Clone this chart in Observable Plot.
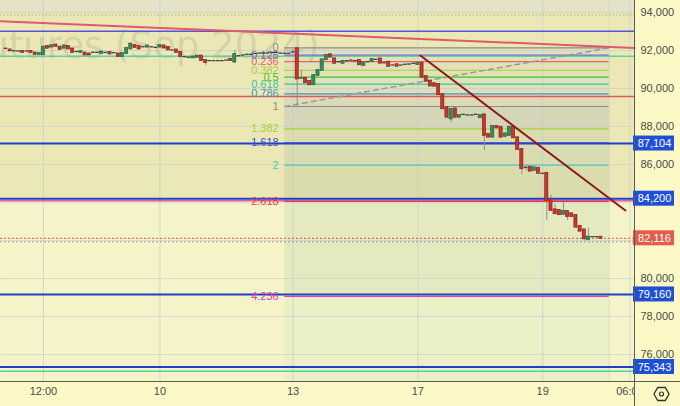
<!DOCTYPE html>
<html><head><meta charset="utf-8">
<script src="https://cdn.jsdelivr.net/npm/d3@7"></script>
<script src="https://cdn.jsdelivr.net/npm/@observablehq/plot@0.6"></script>
<style>
html,body{margin:0;padding:0;background:#fdf9c6;}
#chart svg{display:block}
</style></head><body><div id="chart"></div>
<script>
// ---- candle data (bar index = position in arrays) ----
const opens = [92090,92030,91960,91950,91950,91950,91950,91870,91790,91775,
 92210,92180,92290,92180,92120,92210,92080,91920,91895,91870,
 91820,91880,91880,91845,91880,91895,91860,91820,91685,91840,
 92080,92260,92210,92170,92180,92170,92140,92180,92240,92160,
 92000,92030,91895,91650,91620,91610,91630,91710,91470,91440,
 91440,91440,91440,91470,91530,91390,91700,91737,91775,91775,
 91815,91840,91840,91840,91870,91870,91840,91830,91830,91895,
 92090,90526,90540,90370,90195,90685,90950,91510,91775,91560,
 91385,91330,91440,91470,91440,91470,91210,91385,91420,91510,
 91560,91330,91385,91210,91250,91210,91250,91263,91300,91263,
 91330,90630,90385,90250,90210,89670,88985,88400,88930,88490,
 88615,88580,88580,88615,88460,88615,87580,87440,88000,87965,
 87475,87525,87965,87405,86790,85825,85860,85685,85805,85510,
 85540,84140,83615,83580,83370,83525,83405,83315,82740,82560,
 82040,82175,82175,82175];
const highs = [92120,92060,91990,91980,91980,91970,91975,91900,91870,92240,
 92260,92280,92320,92210,92270,92240,92100,91950,91975,91890,
 91850,91920,91900,91950,91900,91920,91880,91840,91860,92130,
 92390,92290,92230,92190,92260,92190,92160,92290,92260,92180,
 92020,92050,91910,91670,91640,91680,91730,91730,91490,91460,
 91460,91460,91460,91490,91550,92000,91730,91760,91800,91800,
 91840,91860,91860,91860,91890,91890,91860,91850,91850,92050,
 92142,90950,90560,90390,90700,90970,91530,91760,91820,91580,
 91410,91440,91460,91490,91460,91500,91370,91420,91550,91530,
 91580,91350,91400,91230,91270,91230,91270,91280,91320,91350,
 91360,90660,90400,90270,90230,89690,89010,88920,88960,88600,
 88640,88600,88600,88640,88600,88640,87600,88030,88030,87990,
 87640,87990,87990,87430,86810,85950,85880,85840,85830,85530,
 85560,84370,83900,83600,84015,83550,83430,83340,82760,82580,
 82650,82200,82200,82190];
const lows = [92060,91960,91940,91930,91880,91920,91880,91770,91770,91740,
 92100,92160,92190,92000,92100,92060,91870,91900,91880,91740,
 91750,91860,91860,91830,91860,91800,91840,91630,91660,91820,
 92060,92140,92060,92150,92160,92150,92120,92160,92110,92010,
 91980,91870,91660,91630,91600,91590,91610,91450,91210,91420,
 91420,91420,91420,91450,91450,91320,91680,91720,91750,91750,
 91790,91820,91820,91820,91850,91850,91820,91810,91810,91820,
 89053,90500,90280,90150,90160,90660,90930,91490,91630,91310,
 91360,91310,91420,91450,91420,91220,91190,91360,91400,91490,
 91310,91310,91150,91190,91150,91190,91230,91240,91280,91240,
 90570,90360,90110,90100,89640,88900,88450,88210,88460,88470,
 88590,88560,88560,88590,88440,86737,87410,87420,87900,87420,
 87450,87500,87380,86760,85474,85680,85630,85660,85520,85490,
 83053,83560,83370,83330,83350,83053,83240,82680,82470,81975,
 82020,82150,82150,82100];
const closes = [92090,91975,91960,91950,91895,91950,91895,91790,91845,92175,
 92120,92250,92210,92050,92240,92080,91895,91920,91950,91765,
 91765,91880,91880,91920,91880,91815,91860,91685,91840,92105,
 92340,92160,92080,92170,92235,92170,92140,92260,92130,92030,
 92000,91895,91685,91650,91620,91660,91710,91470,91370,91440,
 91440,91440,91440,91470,91470,91790,91700,91737,91775,91775,
 91815,91840,91840,91840,91870,91870,91840,91830,91830,91895,
 90500,90526,90300,90195,90685,90950,91510,91737,91650,91330,
 91385,91420,91440,91470,91440,91250,91350,91385,91530,91510,
 91330,91330,91170,91210,91170,91210,91250,91263,91300,91330,
 90595,90385,90130,90120,89670,88930,88490,88895,88490,88580,
 88615,88580,88580,88615,88580,87525,87440,88000,87930,87440,
 87615,87965,87405,86790,85775,85825,85650,85825,85540,85510,
 84105,83580,83405,83355,83525,83260,83260,82700,82490,82090,
 82180,82175,82175,82116];

// ---- axes ----
const xTickIdx = [9, 37, 69, 99, 129, 150];
const xTickLabels = ["12:00", "10", "13", "17", "19", "06:00"];
const yTickValues = [94000, 92000, 90000, 88000, 86000, 80000, 78000, 76000];
const gridPrices = [76000, 78000, 80000, 82000, 84000, 86000, 88000, 90000, 92000, 94000];

// ---- fibonacci extension ----
const fibLevels = [0, 0.125, 0.236, 0.382, 0.5, 0.618, 0.786, 1, 1.382, 1.618, 2, 2.618, 4.236];
const fibLabels = ["0", "0.125", "0.236", "0.382", "0.5", "0.618", "0.786", "1", "1.382", "1.618", "2", "2.618", "4.236"];
const fibPrices = [92142, 89053];      // level 0, level 1
const fibBars = [67, 145];             // start / end bar

// ---- drawn lines ----
const hLinePrices = [93870, 93020, 91700, 89580, 87104, 84200, 84090, 82116, 81930, 79160, 75343, 75120];
const badgePrices = [87104, 84200, 82116, 79160, 75343];
const redTrendBars = [-1.32, 151.08], redTrendPrices = [93542, 92137];
const maroonTrendBars = [99.6, 148.9], maroonTrendPrices = [91737, 83579];
const zonePrices = [93870, 84150];

// ---- styles ----
const fibColors = ["#8c8c84","#7a6cd8","#e06868","#a6cf3e","#3cc43c","#36c6a0","#3c96c8","#8c8c8c","#a6cf3e","#3c50c8","#4ec8b0","#e03c50","#e040a8"];
const fibBandFills = ["#e2e0bd","#e3dfb9","#e2e1b6","#e1e2b5","#e0e2b7","#dfdfb9","#dddbb7","#d5d5b8","#dbdbaf","#d9dbb1","#dbdcac","#e5e9bf","#ebf0c6"];
const hLineStyles = [
  {stroke:"#b4b43c", w:1, dash:"1.5,2"},
  {stroke:"#5a50dc", w:1.5},
  {stroke:"#5cd6a0", w:1.5},
  {stroke:"#e05858", w:1.5},
  {stroke:"#1e40c8", w:2},
  {stroke:"#1e40c8", w:2},
  {stroke:"#e85aa0", w:1.5},
  {stroke:"#e8503c", w:1, dash:"2,2"},
  {stroke:"#9a9a9a", w:1, dash:"2,2"},
  {stroke:"#1e40c8", w:2},
  {stroke:"#1e40c8", w:2},
  {stroke:"#4cd4a0", w:1.5}
];
const badgeColors = ["#1f4fd6","#1f4fd6","#e45c4c","#1f4fd6","#1f4fd6"];

// ---- build ----
const xMin = -1.32, xMax = 151.08, yMin = 74579, yMax = 94632;
const candles = opens.map((o, i) => ({i, o, h: highs[i], l: lows[i], c: closes[i]}));
const isDoji = d => Math.abs(d.c - d.o) <= 15;
const bodies = candles.filter(d => !isDoji(d));
const dojis = candles.filter(isDoji);
const fib = fibLevels.map((f, k) => ({f, label: fibLabels[k], price: fibPrices[0] - f * (fibPrices[0] - fibPrices[1]), color: fibColors[k]}));
const fibBands = fib.map((d, k) => ({top: d.price, bottom: k + 1 < fib.length ? fib[k + 1].price : yMin, fill: fibBandFills[k]}));
const badges = badgePrices.map((p, k) => ({price: p, color: badgeColors[k]}));
const fmt = d3.format(",");

const hLineMarks = hLinePrices.map((p, k) => Plot.ruleY([p], {
  stroke: hLineStyles[k].stroke, strokeWidth: hLineStyles[k].w, strokeDasharray: hLineStyles[k].dash
}));

const chart = Plot.plot({
  width: 680, height: 406,
  marginTop: 0, marginLeft: 0, marginRight: 46, marginBottom: 25,
  x: {domain: [xMin, xMax]},
  y: {domain: [yMin, yMax]},
  color: {type: "identity"},
  style: {background: "#fdf9c6", fontFamily: "Liberation Sans, Arial, sans-serif", fontSize: "11px"},
  marks: [
    Plot.frame({fill: "#f4f4c8", stroke: null}),
    Plot.rect([0], {x1: xMin, x2: xMax, y1: yMax, y2: zonePrices[0], fill: "#e5e3c5"}),
    Plot.rect([0], {x1: xMin, x2: xMax, y1: zonePrices[0], y2: zonePrices[1], fill: "#ebe8b6"}),
    Plot.rect(fibBands, {x1: fibBars[0], x2: fibBars[1], y1: "top", y2: "bottom", fill: "fill"}),
    Plot.ruleY(gridPrices, {stroke: "#c4cad6", strokeOpacity: 0.6}),
    Plot.ruleX(xTickIdx, {stroke: "#c4cad6", strokeOpacity: 0.7}),
    Plot.ruleX([fibBars[1]], {stroke: "#c8ccd0", strokeOpacity: 0.6}),
    Plot.text(["Futures (Sep 2024)"], {frameAnchor: "top-left", dx: 319, dy: 31, text: d => d, textAnchor: "end",
      fontSize: 37, fontFamily: "DejaVu Sans", fill: "#8e8a70", fillOpacity: 0.24}),
    ...hLineMarks,
    Plot.ruleY(fib, {x1: fibBars[0], x2: fibBars[1], y: "price", stroke: "color", strokeWidth: 1.2}),
    Plot.text(fib, {x: fibBars[0], y: "price", dx: -6, text: "label", textAnchor: "end", fill: "color", fontSize: 11}),
    Plot.line([0, 1], {x: k => fibBars[k], y: k => fibPrices[1 - k], stroke: "#9a9a96", strokeWidth: 1.5, strokeDasharray: "5,4"}),
    Plot.line([0, 1], {x: k => redTrendBars[k], y: k => redTrendPrices[k], stroke: "#e05a6a", strokeWidth: 2}),
    Plot.ruleX(candles, {x: "i", y1: "l", y2: "h", stroke: "#8e8e8e", strokeWidth: 1}),
    Plot.rect(bodies, {x1: d => d.i - 0.38, x2: d => d.i + 0.38, y1: "o", y2: "c", insetTop: -0.5, insetBottom: -0.5,
      fill: d => d.c > d.o ? "#3a8a5c" : "#c8372c", stroke: d => d.c > d.o ? "#1f5a3a" : "#7c1c16", strokeWidth: 0.6}),
    Plot.rect(dojis, {x1: d => d.i - 0.45, x2: d => d.i + 0.45, y1: "o", y2: "c", insetTop: -0.6, insetBottom: -0.6, fill: "#3a3a3a"}),
    Plot.line([0, 1], {x: k => maroonTrendBars[k], y: k => maroonTrendPrices[k], stroke: "#8b1a1a", strokeWidth: 2}),
    Plot.axisX({ticks: xTickIdx, tickFormat: d => xTickLabels[xTickIdx.indexOf(d)], tickSize: 0, tickPadding: 6, fill: "#4a4a4a", label: null, fontSize: 11}),
    Plot.rect([0], {x1: xMax, x2: xMax, y1: yMin, y2: yMin, insetRight: -46, insetBottom: -25, fill: "#fdf9c6"}),
    Plot.axisY({anchor: "right", ticks: yTickValues, tickFormat: fmt, tickSize: 0, tickPadding: 6, fill: "#4a4a4a", label: null, fontSize: 11}),
    Plot.rect(badges, {x1: xMax, x2: xMax, y1: "price", y2: "price", insetLeft: -1, insetRight: -40, insetTop: -7.5, insetBottom: -7.5, fill: "color"}),
    Plot.text(badges, {x: xMax, y: "price", dx: 20, text: d => fmt(d.price), fill: "white", fontSize: 11}),
    Plot.ruleX([xMax], {stroke: "#5a5a5a", insetBottom: -25}),
    Plot.ruleY([yMin], {stroke: "#5a5a5a", insetRight: -46}),
    Plot.dot([0], {x: xMax, y: yMin, dx: 27, dy: 12.5, symbol: "hexagon", r: 6.5, stroke: "#333", fill: "none", strokeWidth: 1.3, rotate: 90}),
    Plot.dot([0], {x: xMax, y: yMin, dx: 27, dy: 12.5, r: 2, stroke: "#333", fill: "none", strokeWidth: 1.2})
  ]
});
document.getElementById("chart").append(chart);
</script>
</body></html>
